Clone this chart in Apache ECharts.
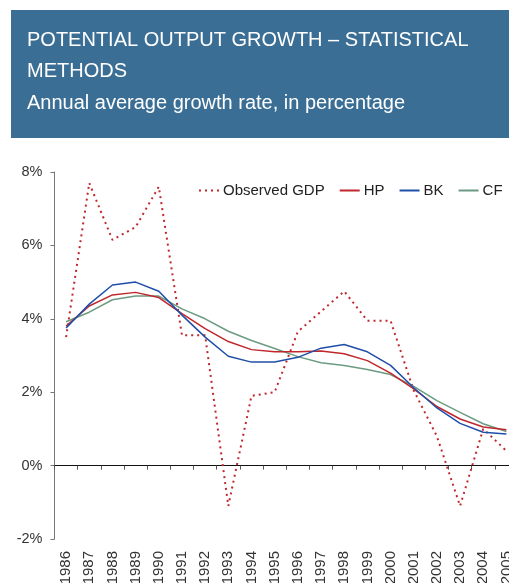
<!DOCTYPE html>
<html>
<head>
<meta charset="utf-8">
<script src="https://cdn.jsdelivr.net/npm/echarts@6/dist/echarts.min.js"></script>
<style>
html,body{margin:0;padding:0;background:#fff;}
#c{width:509px;height:583px;}
</style>
</head>
<body>
<div id="c"></div>
<script>
const years = ['1986','1987','1988','1989','1990','1991','1992','1993','1994','1995','1996','1997','1998','1999','2000','2001','2002','2003','2004','2005'];
const observedGDP = [3.5, 7.7, 6.15, 6.5, 7.6, 3.55, 3.55, -1.1, 1.9, 2.0, 3.65, 4.2, 4.75, 3.95, 3.95, 2.05, 0.8, -1.1, 1.0, 0.4];
const hp = [3.8, 4.35, 4.65, 4.72, 4.58, 4.14, 3.73, 3.38, 3.16, 3.1, 3.1, 3.12, 3.05, 2.86, 2.52, 2.09, 1.61, 1.27, 1.05, 0.98];
const bk = [3.75, 4.4, 4.92, 5.0, 4.75, 4.1, 3.5, 2.98, 2.82, 2.82, 2.95, 3.2, 3.3, 3.1, 2.73, 2.12, 1.57, 1.15, 0.91, 0.86];
const cf = [3.92, 4.18, 4.52, 4.62, 4.62, 4.27, 4.0, 3.66, 3.41, 3.19, 2.97, 2.8, 2.73, 2.62, 2.48, 2.16, 1.77, 1.45, 1.14, 0.93];
const yTicks = {min: -2, max: 8, interval: 2};
const title1 = 'POTENTIAL OUTPUT GROWTH – STATISTICAL';
const title2 = 'METHODS';
const subtitle = 'Annual average growth rate, in percentage';

const chart = echarts.init(document.getElementById('c'), null, {renderer: 'canvas'});
const FONT = 'Liberation Sans, Arial, sans-serif';
const RED = '#c0272d', BLUE = '#1f4fa8', GREEN = '#6b9b80';

chart.setOption({
  animation: false,
  textStyle: {fontFamily: FONT},
  graphic: [
    {type: 'rect', shape: {x: 11, y: 10, width: 498, height: 128}, style: {fill: '#3b6e94'}, silent: true},
    {type: 'text', x: 27, y: 40, style: {text: title1, fill: '#fff', font: '20px ' + FONT, verticalAlign: 'middle'}},
    {type: 'text', x: 27, y: 71.5, style: {text: title2, fill: '#fff', font: '20px ' + FONT, verticalAlign: 'middle'}},
    {type: 'text', x: 27, y: 103.5, style: {text: subtitle, fill: '#fff', font: '20px ' + FONT, verticalAlign: 'middle'}}
  ],
  legend: {
    left: 198, top: 183, width: 320, padding: 0,
    itemWidth: 20, itemHeight: 10, itemGap: 14,
    itemStyle: {opacity: 0},
    textStyle: {fontSize: 15, color: '#222', fontFamily: FONT, padding: [0, 0, 0, -1]},
    data: ['Observed GDP', 'HP', 'BK', 'CF']
  },
  grid: {left: 54.5, right: -9, top: 172, bottom: 44, containLabel: false, outerBoundsMode: 'none'},
  xAxis: {
    type: 'category',
    data: years,
    boundaryGap: true,
    axisLine: {onZero: true, lineStyle: {color: '#111', width: 1.2}},
    axisTick: {show: true, length: 4, lineStyle: {color: '#555'}},
    axisLabel: {rotate: 90, margin: 12, fontSize: 15, color: '#333', fontFamily: FONT, interval: 0},
    splitLine: {show: false}
  },
  yAxis: {
    type: 'value',
    min: yTicks.min, max: yTicks.max, interval: yTicks.interval,
    axisLine: {show: true, lineStyle: {color: '#777', width: 1}},
    axisTick: {show: true, length: 4, lineStyle: {color: '#777'}},
    axisLabel: {formatter: '{value}%', fontSize: 14.5, color: '#333', margin: 12, fontFamily: FONT},
    splitLine: {show: false}
  },
  series: [
    {name: 'Observed GDP', type: 'line', data: observedGDP, symbol: 'none', showSymbol: false,
     lineStyle: {color: RED, width: 2, type: [2, 4]}, itemStyle: {color: RED}, z: 1},
    {name: 'HP', type: 'line', data: hp, symbol: 'none', showSymbol: false,
     lineStyle: {color: RED, width: 1.5}, itemStyle: {color: RED}, z: 3},
    {name: 'BK', type: 'line', data: bk, symbol: 'none', showSymbol: false,
     lineStyle: {color: BLUE, width: 1.5}, itemStyle: {color: BLUE}, z: 4},
    {name: 'CF', type: 'line', data: cf, symbol: 'none', showSymbol: false,
     lineStyle: {color: GREEN, width: 1.5}, itemStyle: {color: GREEN}, z: 2}
  ]
});
</script>
</body>
</html>
